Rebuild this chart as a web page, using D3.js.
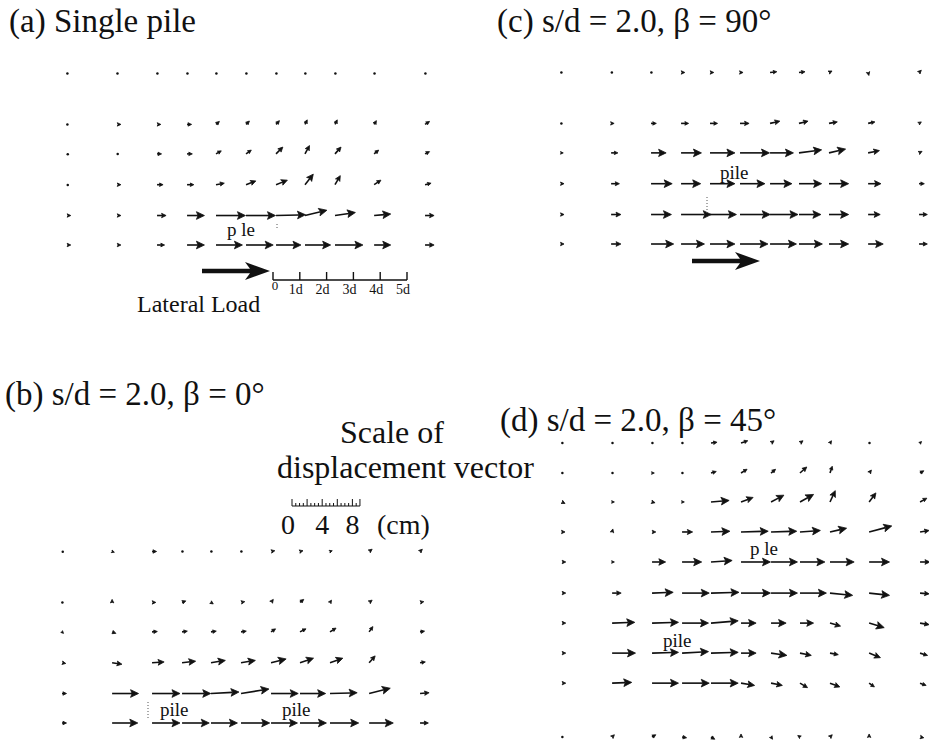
<!DOCTYPE html>
<html><head><meta charset="utf-8">
<script src="https://cdn.jsdelivr.net/npm/d3@7"></script>
<style>
body{margin:0;background:#fff;}
svg{display:block;font-family:"Liberation Serif","Times New Roman",serif;}
</style></head><body>
<svg id="chart" width="929" height="746"></svg>
<script>
// ---------- DATA ----------
// grid column positions (in pile diameters d, from left edge of grid)
const gridCols = [0, 1.87, 3.36, 4.48, 5.56, 6.68, 7.8, 8.88, 10.0, 11.46, 13.36];
// grid row positions (in d, measured up from bottom row)
const gridRows6 = [6.4, 4.5, 3.4, 2.25, 1.1, 0];
const gridRows10 = [10.97, 9.85, 8.77, 7.65, 6.53, 5.37, 4.25, 3.13, 2.01, 0];

// displacement components (cm): U = horizontal (+ right), V = vertical (+ up); rows top -> bottom
const uA = [
 [0.1,0.1,0.1,0.1,0.1,0.1,0.1,0.1,0.1,0.1,0.1],
 [0.1,0.5,0.5,0.6,0.45,0.45,0.45,0.3,0.3,0.3,0.6],
 [0.2,0.15,0.6,0.7,0.7,0.7,0.9,0.6,0.8,0.6,0.6],
 [0.2,0.5,0.8,0.9,1.1,1.3,1.5,1.1,0.7,0.9,0.8],
 [0.5,0.5,1.2,2.3,3.9,3.9,3.9,2.9,2.7,2.2,1.2],
 [0.5,0.5,1.0,2.3,3.5,3.6,3.3,3.4,3.7,2.2,1.2]
];
const vA = [
 [0,0,0,0,0,0,0,0,0,0,0],
 [0,0,0,0,0.4,0.45,0.5,0.6,0.6,0.5,0.4],
 [-0.1,0,0,0,0.4,0.5,0.9,1.1,0.9,0.5,0.3],
 [-0.1,0,0,0,0.2,0.5,0.6,1.4,1.2,0.6,0.2],
 [0,0,0,0,0,0,0.1,0.7,0.4,0.2,0],
 [0,0,0,0,0,0,0,0,0,0,0]
];
const uB = [
 [0.2,0.3,0.6,0.1,0.1,0.1,0.5,0.4,0.3,0.4,0.3],
 [0.1,0.0,0.5,0.5,0.3,0.5,0.3,0.5,0.2,0.4,0.5],
 [0.2,0.5,0.7,0.7,0.7,0.7,0.6,0.8,0.8,0.5,0.6],
 [0.5,1.3,1.6,1.8,1.9,1.9,2.0,1.8,1.7,0.8,0.7],
 [0.6,3.5,3.7,3.8,3.7,3.7,3.6,3.4,3.6,2.8,1.2],
 [0.6,3.4,3.7,3.6,3.5,3.8,3.5,3.5,3.8,3.2,1.1]
];
const vB = [
 [-0.1,-0.1,0,0,0,0,0.1,0.1,0.1,0.3,0.3],
 [0,0.4,0,0.2,-0.2,0.1,0.4,0.4,0.3,0.3,0.1],
 [-0.2,-0.2,0.05,0.1,0.1,0.1,0.4,0.4,0.5,0.7,0.1],
 [-0.1,-0.2,0.1,0.2,0.3,0.3,0.5,0.6,0.6,0.9,0.1],
 [0,0,0,0,0.2,0.6,0,0,0.1,0.7,0.1],
 [0,0,0,0,0,0,0,0,0,0,0]
];
const uC = [
 [0.1,0.2,0.1,0.5,0.5,0.4,0.9,0.8,0.4,0.1,0.3],
 [0.1,0.4,0.7,1.0,1.0,1.2,1.3,1.2,1.1,0.9,0.3],
 [0.3,0.9,2.0,2.7,3.3,3.9,3.1,3.0,2.2,1.5,0.4],
 [0.4,1.1,2.8,2.6,3.3,3.3,2.9,3.0,2.6,1.7,0.7],
 [0.4,1.3,2.7,4.0,3.5,4.0,3.7,2.9,2.6,1.6,1.1],
 [0.4,1.3,3.0,3.1,3.3,3.7,3.5,3.1,2.6,2.0,1.1]
];
const vC = [
 [0,0,0,0,0,0,0.1,0.1,0.2,-0.4,0.3],
 [0,0,0,0,0,0,0.3,0.3,0.2,0.2,0.2],
 [0,0,0,0,0,0,0,0.4,0.5,0.3,0.2],
 [0,0,0,0,0,0,0,0,0,0,0],
 [0,0,0,0,0,0,0,0,0,0,0],
 [0,0,0,0,0,0,0,0,0,0,0]
];
const uD = [
 [0.1,0.1,0.1,0.1,0.8,0.9,0.4,0.4,0.2,0.1,0.2],
 [0.1,0.1,0.3,0.1,0.7,0.8,0.6,0.9,0.3,0.3,0.5],
 [0.4,0.3,0.4,0.3,2.4,1.6,1.7,1.8,0.7,0.9,0.9],
 [0.4,0.1,0.5,1.4,2.5,3.6,3.4,2.7,2.2,3.0,1.2],
 [0.5,0.3,1.8,2.6,2.8,3.9,3.5,3.3,3.2,2.7,1.3],
 [0.5,1.2,2.8,3.6,3.7,3.9,3.5,3.5,3.0,2.7,1.2],
 [0.5,3.0,3.5,3.5,3.6,2.0,2.0,1.8,1.4,2.0,1.2],
 [0.5,3.1,3.5,3.5,3.6,2.0,2.1,1.5,1.1,1.5,1.0],
 [0.5,2.6,3.5,3.6,3.6,1.8,1.5,1.0,1.3,0.7,0.8],
 [0.1,0.3,0.5,0.6,0.5,0.0,0.2,-0.3,0.3,0.0,0.5]
];
const vD = [
 [0,0,0,0,0.1,0.3,0.3,0.3,0.3,0,0.2],
 [0,0,0,0,0.2,0.5,0.5,0.8,0.9,0.4,0.3],
 [-0.2,0,-0.1,0,0.2,0.6,0.9,1.0,1.5,1.2,0.5],
 [0,0.4,0,0,0.1,0.1,0.1,0.2,0.5,0.8,0.2],
 [0,0,0,0,0.2,0,0,0,0,0,0],
 [0,0,0.1,0,0.1,0,0,0,-0.3,-0.3,-0.1],
 [0,0.1,0.1,0,0.3,0,0,0,-0.4,-0.6,-0.2],
 [0,0,0.1,0.2,0.1,0,-0.3,-0.3,-0.2,-0.6,-0.3],
 [0,0.1,0,0,0,-0.3,-0.3,-0.6,-0.5,-0.5,-0.3],
 [0,0.3,0.3,-0.1,-0.3,0.4,-0.3,0.2,0.3,0.4,-0.1]
];

const panelTitles = ["(a) Single pile", "(b) s/d = 2.0, \u03B2 = 0\u00B0", "(c) s/d = 2.0, \u03B2 = 90\u00B0", "(d) s/d = 2.0, \u03B2 = 45\u00B0"];
const loadScaleTicks = [0, 1, 2, 3, 4, 5];           // in d
const loadScaleLabels = ["0", "1d", "2d", "3d", "4d", "5d"];
const dispScaleTicks = [0, 4, 8];                   // cm
const dispScaleMax = 9;                             // cm

// ---------- LAYOUT ----------
const PX_PER_D = 26.8;
const PX_PER_CM = 7.55;
const INK = "#111";
const svg = d3.select("#chart");

const vecScale = d3.scaleLinear().domain([0, 1]).range([0, PX_PER_CM]);

const panels = [
  {key: "a", u: uA, v: vA, rows: gridRows6, x0: 67, y0: 245},
  {key: "b", u: uB, v: vB, rows: gridRows6, x0: 62, y0: 723},
  {key: "c", u: uC, v: vC, rows: gridRows6, x0: 561, y0: 244},
  {key: "d", u: uD, v: vD, rows: gridRows10, x0: 562, y0: 737}
];

function drawArrow(g, x, y, u, v) {
  const dx = vecScale(u), dy = -vecScale(v);
  const L = Math.hypot(dx, dy);
  if (L < 1.8) {
    g.append("circle").attr("cx", x + dx / 2).attr("cy", y + dy / 2).attr("r", 1.25).attr("fill", INK);
    return;
  }
  const ux = dx / L, uy = dy / L;
  let h = Math.min(8, Math.max(3.6, L * 0.5));
  h = Math.min(h, L + 0.5);
  const w = h * 0.48;
  const tx = x + dx, ty = y + dy;
  const bx = tx - ux * h, by = ty - uy * h;
  if (L - h > 0.4) {
    g.append("line").attr("x1", x).attr("y1", y).attr("x2", bx + ux * 1.5).attr("y2", by + uy * 1.5)
      .attr("stroke", INK).attr("stroke-width", 1.6);
  }
  const nx = bx + ux * h * 0.2, ny = by + uy * h * 0.2;
  g.append("path")
    .attr("d", `M${tx},${ty}L${bx - uy * w},${by + ux * w}L${nx},${ny}L${bx + uy * w},${by - ux * w}Z`)
    .attr("fill", INK).attr("stroke", INK).attr("stroke-width", 0.8).attr("stroke-linejoin", "round");
}

panels.forEach(p => {
  const x = d3.scaleLinear().domain([0, gridCols[gridCols.length - 1]])
    .range([p.x0, p.x0 + gridCols[gridCols.length - 1] * PX_PER_D]);
  const y = d3.scaleLinear().domain([0, 11]).range([p.y0, p.y0 - 11 * PX_PER_D]);
  const g = svg.append("g").attr("class", "panel-" + p.key);
  p.rows.forEach((r, i) => {
    gridCols.forEach((c, j) => drawArrow(g, x(c), y(r), p.u[i][j], p.v[i][j]));
  });
});

// ---------- TITLES ----------
const titlePos = [[9, 32], [5, 405], [497, 32], [500, 431]];
panelTitles.forEach((t, i) => {
  svg.append("text").attr("x", titlePos[i][0]).attr("y", titlePos[i][1])
    .attr("font-size", 33).attr("fill", INK).text(t);
});

// ---------- PILE LABELS ----------
const pileLabels = [
  {t: "p le", x: 227, y: 236}, {t: "pile", x: 720, y: 179},
  {t: "pile", x: 160, y: 716}, {t: "pile", x: 282, y: 716},
  {t: "p le", x: 750, y: 555}, {t: "pile", x: 663, y: 647}
];
pileLabels.forEach(d => {
  svg.append("text").attr("x", d.x).attr("y", d.y).attr("font-size", 19).attr("fill", INK).text(d.t);
});
// dotted pile outlines
[[707, 197, 707, 213], [148, 702, 148, 720], [277, 224, 277, 230]].forEach(s => {
  svg.append("line").attr("x1", s[0]).attr("y1", s[1]).attr("x2", s[2]).attr("y2", s[3])
    .attr("stroke", "#555").attr("stroke-width", 1).attr("stroke-dasharray", "1,2");
});

// ---------- LATERAL LOAD ARROWS ----------
function bigArrow(x1, x2, yy) {
  const hl = 25, hh = 9, sh = 2.3;
  svg.append("path")
    .attr("d", `M${x1},${yy - sh}L${x2 - hl + 5},${yy - sh}L${x2 - hl},${yy - hh}L${x2},${yy}L${x2 - hl},${yy + hh}L${x2 - hl + 5},${yy + sh}L${x1},${yy + sh}Z`)
    .attr("fill", INK);
}
bigArrow(202, 270, 271);
bigArrow(692, 760, 261);

// load distance scale (panel a)
const dScale = d3.scaleLinear().domain([0, 5]).range([273, 407]);
const sb = svg.append("g").attr("stroke", INK).attr("stroke-width", 1.4);
sb.append("line").attr("x1", dScale(0)).attr("x2", dScale(5)).attr("y1", 280).attr("y2", 280);
loadScaleTicks.forEach(t => sb.append("line").attr("x1", dScale(t)).attr("x2", dScale(t)).attr("y1", 272).attr("y2", 280));
loadScaleTicks.forEach((t, i) => {
  svg.append("text").attr("x", dScale(t) + (i === 0 ? 2 : -4)).attr("y", i === 0 ? 290 : 294)
    .attr("text-anchor", "middle").attr("font-size", i === 0 ? 13 : 14).attr("fill", INK).text(loadScaleLabels[i]);
});
svg.append("text").attr("x", 137).attr("y", 312).attr("font-size", 24).attr("fill", INK).text("Lateral Load");

// ---------- DISPLACEMENT SCALE ----------
svg.append("text").attr("x", 340).attr("y", 443).attr("font-size", 32).attr("fill", INK).text("Scale of");
svg.append("text").attr("x", 277).attr("y", 478).attr("font-size", 32).attr("fill", INK).text("displacement vector");
const cmScale = d3.scaleLinear().domain([0, dispScaleMax]).range([292, 292 + dispScaleMax * PX_PER_CM]);
const rg = svg.append("g").attr("stroke", INK).attr("stroke-width", 1);
rg.append("line").attr("x1", cmScale(0)).attr("x2", cmScale(dispScaleMax)).attr("y1", 506).attr("y2", 506);
d3.range(0, dispScaleMax + 0.01, 0.5).forEach(t => {
  const major = Math.abs(t % 2) < 1e-6 || Math.abs(t - dispScaleMax) < 1e-6;
  rg.append("line").attr("x1", cmScale(t)).attr("x2", cmScale(t)).attr("y1", 506).attr("y2", major ? 499 : 503);
});
dispScaleTicks.forEach(t => {
  svg.append("text").attr("x", cmScale(t) + (t === 0 ? -4 : 0)).attr("y", 534).attr("text-anchor", "middle")
    .attr("font-size", 28).attr("fill", INK).text(String(t));
});
svg.append("text").attr("x", 377).attr("y", 534).attr("font-size", 28).attr("fill", INK).text("(cm)");
</script>
</body></html>
